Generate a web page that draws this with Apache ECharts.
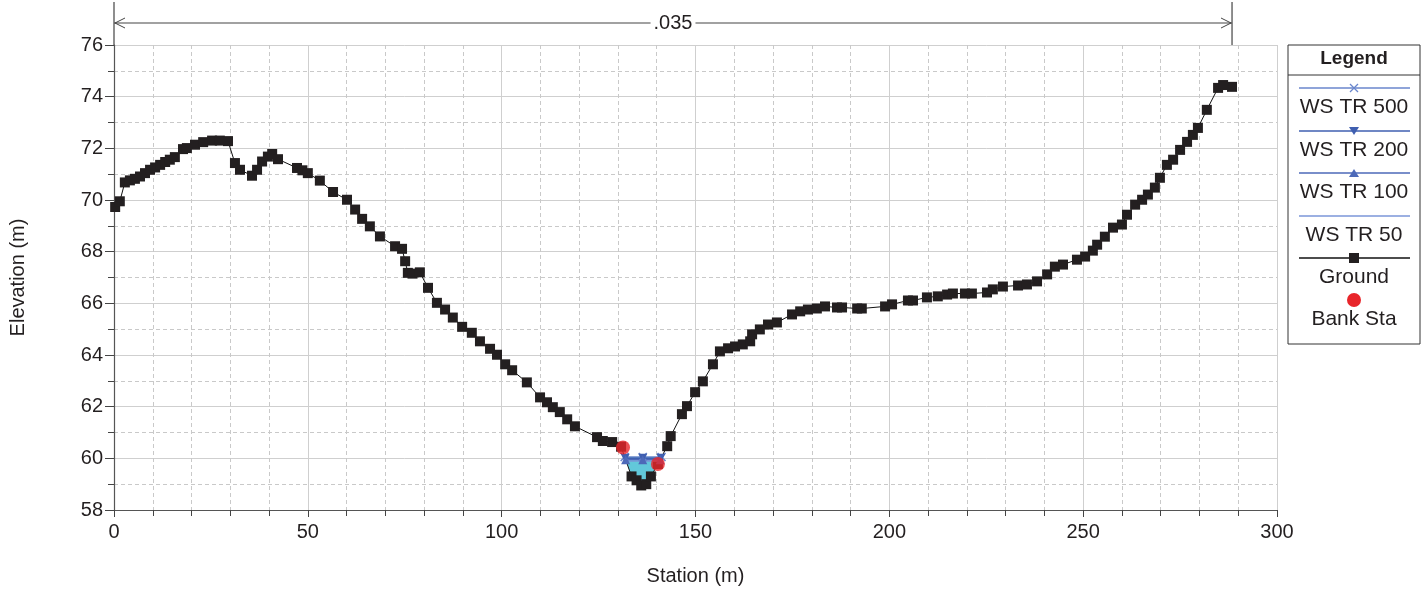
<!DOCTYPE html>
<html>
<head>
<meta charset="utf-8">
<script src="https://cdn.jsdelivr.net/npm/echarts@6/dist/echarts.min.js"></script>
<style>
html,body{margin:0;padding:0;background:#fff;}
#chart{width:1428px;height:591px;}
</style>
</head>
<body>
<div id="chart"></div>
<script>
// ---- Data ----
const groundStation = [0.3,1.5,2.8,4.1,5.4,6.7,8.0,9.3,10.6,11.9,13.2,14.4,15.7,17.8,18.8,20.9,23.0,25.3,27.3,29.4,31.2,32.5,35.6,36.9,38.2,39.7,40.8,42.3,47.2,48.6,50.0,53.1,56.5,60.1,62.2,64.0,66.0,68.6,72.5,74.3,75.1,75.8,77.0,78.9,81.0,83.3,85.4,87.4,89.8,92.3,94.4,97.0,98.8,100.9,102.7,106.5,109.9,111.7,113.2,115.0,116.9,118.9,124.6,126.1,128.5,130.8,133.5,134.8,136.0,137.3,138.5,140.3,142.7,143.6,146.5,147.8,149.9,151.9,154.5,156.3,158.4,160.2,162.2,164.1,164.6,166.6,168.7,171.0,174.9,177.0,179.0,181.3,183.4,186.5,187.8,191.7,192.9,198.9,200.7,204.8,206.1,209.7,212.5,214.9,216.4,219.5,221.3,225.2,226.7,229.3,233.2,235.5,238.1,240.7,242.7,244.8,248.4,250.5,252.5,253.6,255.6,257.7,260.0,261.3,263.4,265.2,266.7,268.5,269.8,271.6,273.2,275.0,276.8,278.3,279.6,281.9,284.8,286.1,288.4];
const groundElevation = [69.73,69.95,70.68,70.76,70.82,70.91,71.04,71.17,71.26,71.36,71.47,71.56,71.66,71.97,72.01,72.14,72.24,72.30,72.30,72.28,71.43,71.17,70.94,71.17,71.49,71.68,71.78,71.58,71.24,71.15,71.04,70.75,70.31,70.01,69.63,69.27,68.98,68.59,68.21,68.11,67.63,67.18,67.15,67.20,66.60,66.02,65.76,65.45,65.09,64.86,64.53,64.24,64.01,63.64,63.41,62.94,62.36,62.17,61.98,61.79,61.51,61.24,60.82,60.67,60.63,60.45,59.30,59.15,58.95,59.00,59.30,59.78,60.47,60.86,61.71,62.02,62.56,62.98,63.64,64.14,64.26,64.33,64.41,64.53,64.80,64.99,65.18,65.26,65.57,65.69,65.76,65.80,65.88,65.84,65.84,65.80,65.80,65.88,65.96,66.11,66.11,66.23,66.27,66.34,66.38,66.38,66.38,66.42,66.54,66.65,66.69,66.73,66.85,67.12,67.42,67.50,67.69,67.81,68.04,68.27,68.58,68.93,69.05,69.43,69.82,70.01,70.21,70.48,70.86,71.36,71.56,71.94,72.25,72.52,72.79,73.49,74.34,74.45,74.38];
const bankStation = [131.3, 140.3];
const bankElevation = [60.42, 59.78];
const wsNames = ['WS TR 500','WS TR 200','WS TR 100','WS TR 50'];
const wsElevation = [60.05, 60.00, 59.95, 59.90];
const wsMarkerStation = 136.4;
const manningN = '.035';
const manningRange = [0, 288.4];
const xTicks = [0, 300, 50];
const yTicks = [58, 76, 2];

// ---- Helpers ----
const ground = groundStation.map((s, i) => [s, groundElevation[i]]);
const banks = bankStation.map((s, i) => [s, bankElevation[i]]);

function wsExtent(level) {
  let left = null, right = null;
  let iMin = 0; let m = Infinity;
  ground.forEach((p, i) => { if (p[1] < m) { m = p[1]; iMin = i; } });
  for (let i = iMin; i > 0; i--) {
    const a = ground[i - 1], b = ground[i];
    if (a[1] >= level && b[1] < level) { left = a[0] + (level - a[1]) / (b[1] - a[1]) * (b[0] - a[0]); break; }
  }
  for (let i = iMin; i < ground.length - 1; i++) {
    const a = ground[i], b = ground[i + 1];
    if (a[1] < level && b[1] >= level) { right = a[0] + (level - a[1]) / (b[1] - a[1]) * (b[0] - a[0]); break; }
  }
  return [left, right, iMin];
}
function wsPolygon(level) {
  const [l, r] = wsExtent(level);
  const pts = [[l, level]];
  ground.forEach(p => { if (p[0] > l && p[0] < r && p[1] < level) pts.push(p); });
  pts.push([r, level]);
  return pts;
}
const waterPoly = wsPolygon(wsElevation[0]);

const wsColors = ['#6a86cc', '#3f5fb0', '#4d69b8', '#7b96d8'];
const wsSymbols = ['path://M0,0L10,10M10,0L0,10', 'triangle', 'triangle', 'none'];
const wsRot = [0, 180, 0, 0];

const wsSeries = wsNames.map((name, k) => {
  const [l, r] = wsExtent(wsElevation[k]);
  const lev = wsElevation[k];
  return {
    name, type: 'line', z: 5,
    data: [[l, lev], [wsMarkerStation, lev], [r, lev]],
    lineStyle: { color: wsColors[k], width: 1.5 },
    symbol: wsSymbols[k], symbolRotate: wsRot[k],
    symbolSize: k === 0 ? 8 : 9,
    showSymbol: true,
    itemStyle: k === 0 ? { color: 'none', borderColor: wsColors[k], borderWidth: 1.5 } : { color: wsColors[k] },
    animation: false, silent: true
  };
});

const chart = echarts.init(document.getElementById('chart'), null, { renderer: 'canvas' });
const FONT = 'Liberation Sans, Arial, sans-serif';
const TXT = '#231f20';

const option = {
  animation: false,
  backgroundColor: '#ffffff',
  grid: { left: 114, right: 151, top: 45, bottom: 80, containLabel: false },
  xAxis: {
    type: 'value', min: xTicks[0], max: xTicks[1], interval: xTicks[2],
    name: 'Station (m)', nameLocation: 'middle', nameGap: 56,
    nameTextStyle: { fontFamily: FONT, fontSize: 20, color: TXT },
    axisLine: { show: true, onZero: false, lineStyle: { color: '#555', width: 1.2 } },
    axisTick: { show: true, length: 7, lineStyle: { color: '#444' } },
    minorTick: { show: true, splitNumber: 5, length: 6, lineStyle: { color: '#444' } },
    axisLabel: { fontFamily: FONT, fontSize: 20, color: TXT, margin: 12 },
    splitLine: { show: true, lineStyle: { color: '#cfcfcf', width: 1 } },
    minorSplitLine: { show: true, lineStyle: { color: '#c9c9c9', type: [4, 3], width: 1 } }
  },
  yAxis: {
    type: 'value', min: yTicks[0], max: yTicks[1], interval: yTicks[2],
    name: 'Elevation (m)', nameLocation: 'middle', nameGap: 86,
    nameTextStyle: { fontFamily: FONT, fontSize: 20, color: TXT },
    axisLine: { show: true, onZero: false, lineStyle: { color: '#555', width: 1.2 } },
    axisTick: { show: true, length: 9, lineStyle: { color: '#444' } },
    minorTick: { show: true, splitNumber: 2, length: 6, lineStyle: { color: '#444' } },
    axisLabel: { fontFamily: FONT, fontSize: 20, color: TXT, margin: 11 },
    splitLine: { show: true, lineStyle: { color: '#cfcfcf', width: 1 } },
    minorSplitLine: { show: true, lineStyle: { color: '#c9c9c9', type: [4, 3], width: 1 } }
  },
  series: [
    {
      name: 'water', type: 'custom', z: 2, silent: true,
      data: waterPoly,
      renderItem: function (params, api) {
        if (params.dataIndex !== 0) return null;
        const pts = waterPoly.map(p => api.coord(p));
        return { type: 'polygon', shape: { points: pts }, style: { fill: '#62c8da', stroke: null } };
      }
    },
    {
      name: 'Ground', type: 'line', z: 4, data: ground,
      lineStyle: { color: '#111', width: 1 },
      symbol: 'rect', symbolSize: 10, showSymbol: true,
      itemStyle: { color: '#231f20' },
      animation: false, silent: true
    },
    ...wsSeries,
    {
      name: 'Bank Sta', type: 'scatter', z: 6, data: banks,
      symbol: 'circle', symbolSize: 14,
      itemStyle: { color: '#e8252a' }, silent: true
    }
  ]
};
chart.setOption(option);

// ---- Annotation and legend drawn with graphics ----
const x0 = chart.convertToPixel({ xAxisIndex: 0 }, manningRange[0]);
const x1 = chart.convertToPixel({ xAxisIndex: 0 }, manningRange[1]);
const yTop = chart.convertToPixel({ yAxisIndex: 0 }, yTicks[1]);
const yA = 23;
const ln = { stroke: '#444', lineWidth: 1.2 };
const lg = { x: 1288, y: 45, w: 132, h: 299 };
const cx = lg.x + lg.w / 2;
const legendItems = [
  { label: wsNames[0], y: 88, color: wsColors[0], sym: 'x' },
  { label: wsNames[1], y: 131, color: wsColors[1], sym: 'down' },
  { label: wsNames[2], y: 173, color: wsColors[2], sym: 'up' },
  { label: wsNames[3], y: 216, color: wsColors[3], sym: 'none' },
  { label: 'Ground', y: 258, color: '#111', sym: 'rect' },
  { label: 'Bank Sta', y: 300, color: '#e8252a', sym: 'circle' }
];
const g = [
  { type: 'line', shape: { x1: x0, y1: 2, x2: x0, y2: yTop }, style: ln, z: 10 },
  { type: 'line', shape: { x1: x1, y1: 2, x2: x1, y2: yTop }, style: ln, z: 10 },
  { type: 'line', shape: { x1: x0, y1: yA, x2: x1, y2: yA }, style: ln, z: 10 },
  { type: 'polyline', shape: { points: [[x0 + 11, yA - 5], [x0 + 1, yA], [x0 + 11, yA + 5]] }, style: { stroke: '#444', lineWidth: 1, fill: null }, z: 10 },
  { type: 'polyline', shape: { points: [[x1 - 11, yA - 5], [x1 - 1, yA], [x1 - 11, yA + 5]] }, style: { stroke: '#444', lineWidth: 1, fill: null }, z: 10 },
  { type: 'text', x: (x0 + x1) / 2, y: yA, z: 11,
    style: { text: manningN, font: '20px ' + FONT, fill: TXT, align: 'center', verticalAlign: 'middle', backgroundColor: '#fff', padding: [0, 3] } },
  { type: 'rect', shape: { x: lg.x, y: lg.y, width: lg.w, height: lg.h }, style: { fill: '#fff', stroke: '#333', lineWidth: 1 }, z: 10 },
  { type: 'line', shape: { x1: lg.x, y1: 75, x2: lg.x + lg.w, y2: 75 }, style: { stroke: '#333', lineWidth: 1 }, z: 11 },
  { type: 'text', x: cx, y: 59, z: 11, style: { text: 'Legend', font: 'bold 19px ' + FONT, fill: TXT, align: 'center', verticalAlign: 'middle' } }
];
legendItems.forEach(it => {
  if (it.sym !== 'circle') {
    g.push({ type: 'line', shape: { x1: 1299, y1: it.y, x2: 1410, y2: it.y }, style: { stroke: it.color, lineWidth: 1.3 }, z: 11 });
  }
  if (it.sym === 'x') {
    g.push({ type: 'polyline', shape: { points: [[cx - 4, it.y - 4], [cx + 4, it.y + 4]] }, style: { stroke: it.color, lineWidth: 1.3 }, z: 12 });
    g.push({ type: 'polyline', shape: { points: [[cx - 4, it.y + 4], [cx + 4, it.y - 4]] }, style: { stroke: it.color, lineWidth: 1.3 }, z: 12 });
  } else if (it.sym === 'down') {
    g.push({ type: 'polygon', shape: { points: [[cx - 5, it.y - 4], [cx + 5, it.y - 4], [cx, it.y + 4]] }, style: { fill: it.color }, z: 12 });
  } else if (it.sym === 'up') {
    g.push({ type: 'polygon', shape: { points: [[cx - 5, it.y + 4], [cx + 5, it.y + 4], [cx, it.y - 4]] }, style: { fill: it.color }, z: 12 });
  } else if (it.sym === 'rect') {
    g.push({ type: 'rect', shape: { x: cx - 5, y: it.y - 5, width: 10, height: 10 }, style: { fill: '#231f20' }, z: 12 });
  } else if (it.sym === 'circle') {
    g.push({ type: 'circle', shape: { cx: cx, cy: it.y, r: 7 }, style: { fill: it.color }, z: 12 });
  }
  g.push({ type: 'text', x: cx, y: it.y + 19, z: 11, style: { text: it.label, font: '21px ' + FONT, fill: TXT, align: 'center', verticalAlign: 'middle' } });
});
chart.setOption({ graphic: g });
</script>
</body>
</html>
